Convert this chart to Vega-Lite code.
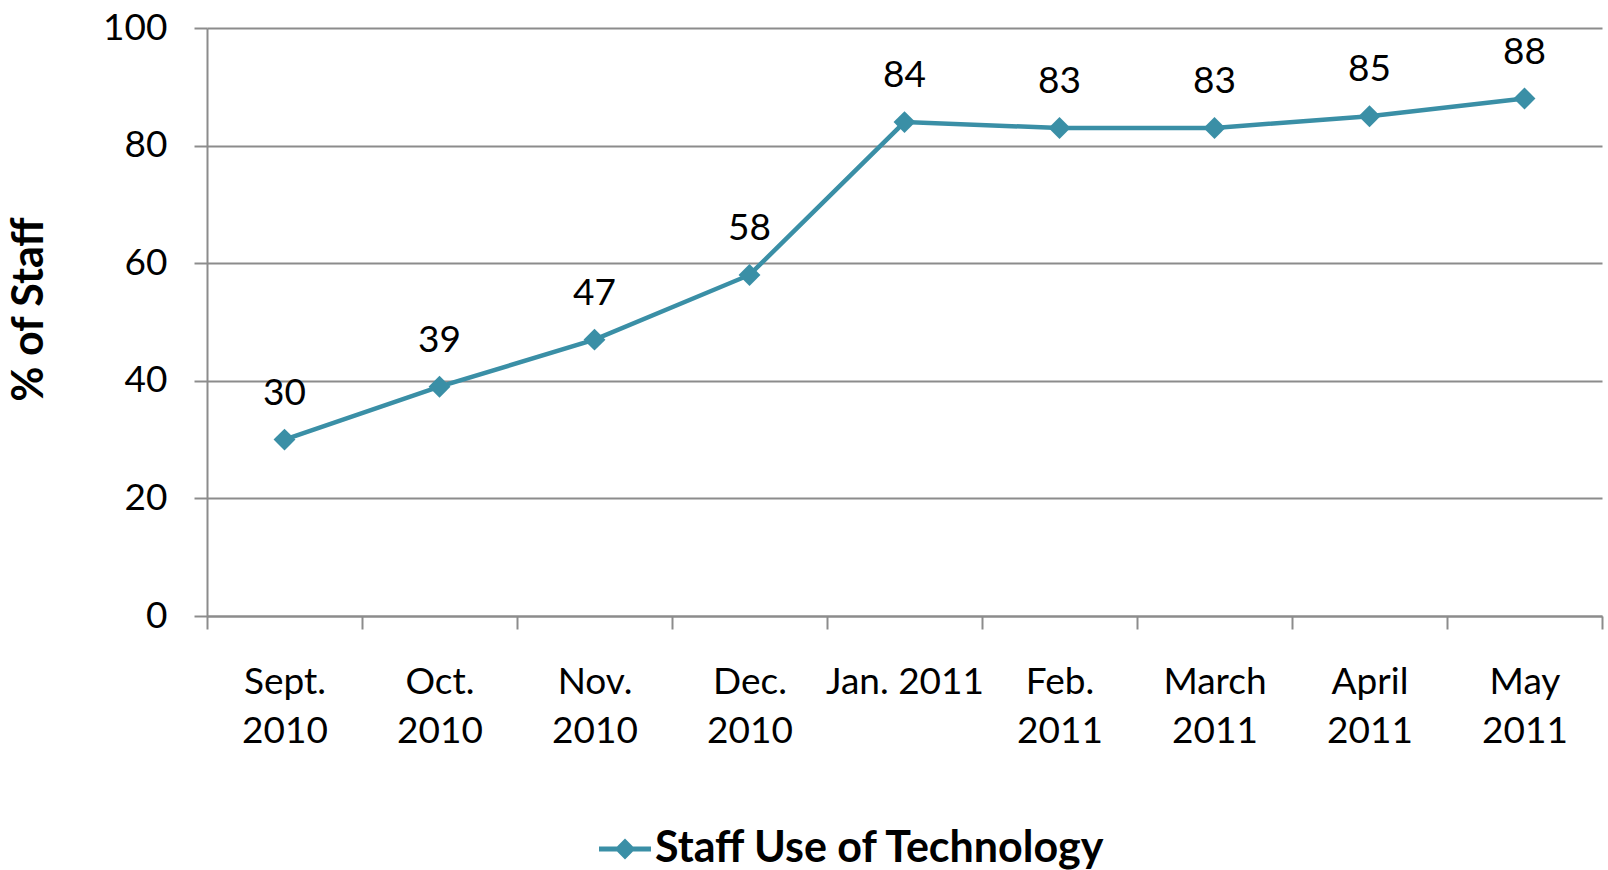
{
  "$schema": "https://vega.github.io/schema/vega-lite/v6.json",
  "width": 1395,
  "height": 588,
  "autosize": {"type": "none"},
  "padding": {"left": 207, "top": 28, "right": 6, "bottom": 254},
  "background": "white",
  "config": {
    "view": {"stroke": null},
    "font": "Lato"
  },
  "data": {
    "values": [
      {"month": "Sept.|2010", "pct": 30, "series": "Staff Use of Technology"},
      {"month": "Oct.|2010", "pct": 39, "series": "Staff Use of Technology"},
      {"month": "Nov.|2010", "pct": 47, "series": "Staff Use of Technology"},
      {"month": "Dec.|2010", "pct": 58, "series": "Staff Use of Technology"},
      {"month": "Jan. 2011", "pct": 84, "series": "Staff Use of Technology"},
      {"month": "Feb.|2011", "pct": 83, "series": "Staff Use of Technology"},
      {"month": "March|2011", "pct": 83, "series": "Staff Use of Technology"},
      {"month": "April|2011", "pct": 85, "series": "Staff Use of Technology"},
      {"month": "May|2011", "pct": 88, "series": "Staff Use of Technology"}
    ]
  },
  "encoding": {
    "x": {
      "field": "month",
      "type": "nominal",
      "sort": null,
      "scale": {"paddingInner": 0, "paddingOuter": 0},
      "axis": {
        "title": null,
        "labelAngle": 0,
        "labelExpr": "split(datum.label, '|')",
        "labelFont": "Lato",
        "labelFontSize": 37,
        "labelColor": "black",
        "labelLineHeight": 49,
        "labelBaseline": "top",
        "labelPadding": 35,
        "tickSize": 13,
        "tickColor": "#8c8c8c",
        "tickWidth": 2,
        "tickBand": "extent",
        "domainColor": "#8c8c8c",
        "domainWidth": 2,
        "grid": false
      }
    },
    "y": {
      "field": "pct",
      "type": "quantitative",
      "scale": {"domain": [0, 100], "nice": false},
      "axis": {
        "values": [0, 20, 40, 60, 80, 100],
        "title": "% of Staff",
        "titleFont": "Lato",
        "titleFontSize": 43,
        "titleFontWeight": "bold",
        "titleColor": "black",
        "titleAngle": 270,
        "titleAlign": "center",
        "titleBaseline": "middle",
        "titleX": -178,
        "titleY": 281,
        "labelFont": "Lato",
        "labelFontSize": 37,
        "labelColor": "black",
        "labelPadding": 27,
        "tickSize": 13,
        "tickColor": "#8c8c8c",
        "tickWidth": 2,
        "domainColor": "#8c8c8c",
        "domainWidth": 2,
        "grid": true,
        "gridColor": "#8c8c8c",
        "gridWidth": 2
      }
    }
  },
  "layer": [
    {
      "mark": {"type": "line", "color": "#3A8FA6", "strokeWidth": 4.5}
    },
    {
      "mark": {"type": "point", "shape": "diamond", "filled": true, "size": 480, "opacity": 1},
      "encoding": {
        "color": {
          "field": "series",
          "type": "nominal",
          "scale": {"range": ["#3A8FA6"]},
          "legend": {
            "title": null,
            "orient": "none",
            "legendX": 392,
            "legendY": 795,
            "symbolType": "M-1,-0.1H1V0.1H-1Z M0,-0.4L0.4,0L0,0.4L-0.4,0Z",
            "symbolSize": 2700,
            "symbolFillColor": "#3A8FA6",
            "symbolStrokeWidth": 0,
            "symbolOpacity": 1,
            "labelFont": "Lato",
            "labelFontSize": 43,
            "labelFontWeight": "bold",
            "labelColor": "black",
            "labelOffset": 4,
            "labelLimit": 800
          }
        }
      }
    },
    {
      "mark": {"type": "text", "font": "Lato", "fontSize": 37, "color": "black", "dy": -46, "baseline": "middle"},
      "encoding": {"text": {"field": "pct", "type": "quantitative"}}
    }
  ]
}
